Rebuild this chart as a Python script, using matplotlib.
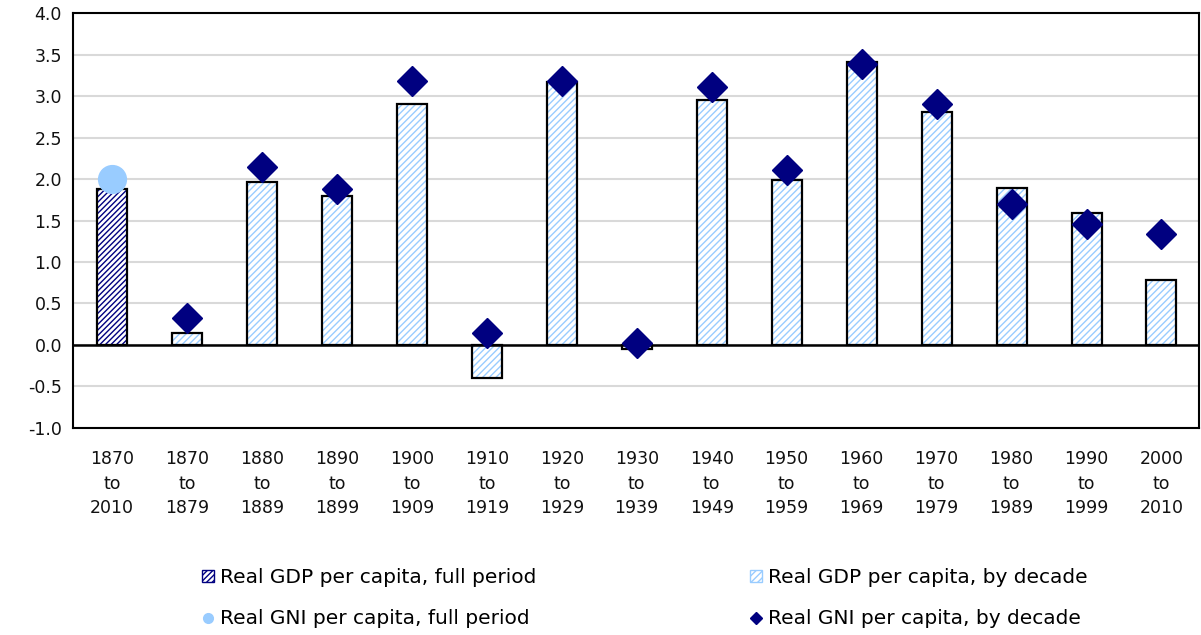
import numpy as np
import matplotlib.pyplot as plt
from matplotlib.patches import Patch
from matplotlib.lines import Line2D

plt.rcParams['font.family'] = ['DejaVu Sans']

categories = ["1870\nto\n2010", "1870\nto\n1879", "1880\nto\n1889", "1890\nto\n1899",
              "1900\nto\n1909", "1910\nto\n1919", "1920\nto\n1929", "1930\nto\n1939",
              "1940\nto\n1949", "1950\nto\n1959", "1960\nto\n1969", "1970\nto\n1979",
              "1980\nto\n1989", "1990\nto\n1999", "2000\nto\n2010"]
gdp_full = [1.88]
gdp_decade = [0.14, 1.96, 1.80, 2.90, -0.40, 3.17, -0.05, 2.95, 1.99, 3.41, 2.81, 1.89, 1.59, 0.78]
gni_full = [2.0]
gni_decade = [0.33, 2.14, 1.88, 3.18, 0.14, 3.18, 0.02, 3.11, 2.11, 3.39, 2.90, 1.70, 1.46, 1.34]

navy = '#000080'
light = '#99ccff'

fig = plt.figure(figsize=(12.01, 6.35), dpi=100)
ax = fig.add_axes([0.0608, 0.326, 0.9375, 0.6535])

x = np.arange(len(categories))
xf = x[:1]
xd = x[1:]
w = 0.4

# hatched fill (hatch takes edge colour), then black outline on top
ax.bar(xf, gdp_full, w, facecolor='white', edgecolor=navy, hatch='//////', linewidth=0, zorder=2)
ax.bar(xf, gdp_full, w, fill=False, edgecolor='black', linewidth=1.6, zorder=3)
ax.bar(xd, gdp_decade, w, facecolor='white', edgecolor=light, hatch='/////', linewidth=0, zorder=2)
ax.bar(xd, gdp_decade, w, fill=False, edgecolor='black', linewidth=1.6, zorder=3)

ax.plot(xf, gni_full, 'o', color=light, markersize=20, linestyle='none', zorder=5)
ax.plot(xd, gni_decade, 'D', color=navy, markersize=15.5, linestyle='none', zorder=5)

ax.axhline(0, color='black', linewidth=1.8, zorder=4)

ax.set_xlim(-0.52, len(categories) - 0.5)
ax.set_ylim(-1, 4)
ax.set_yticks(np.arange(-1, 4.01, 0.5))
ax.set_yticklabels(['%.1f' % v for v in np.arange(-1, 4.01, 0.5)])
ax.set_xticks(x)
ax.set_xticklabels(categories, linespacing=1.45)
ax.tick_params(axis='both', length=0, labelsize=12.5, colors='#111111')
ax.tick_params(axis='x', pad=16)
ax.tick_params(axis='y', pad=8)
ax.yaxis.grid(True, color='#d9d9d9', linewidth=1.5, zorder=0)
ax.set_axisbelow(True)
for s in ax.spines.values():
    s.set_color('black')
    s.set_linewidth(1.5)

handles = [
    Patch(facecolor='white', edgecolor=navy, hatch='//////', label='Real GDP per capita, full period'),
    Line2D([], [], marker='o', color=light, markersize=7, linestyle='none', label='Real GNI per capita, full period'),
    Patch(facecolor='white', edgecolor=light, hatch='/////', label='Real GDP per capita, by decade'),
    Line2D([], [], marker='D', color=navy, markersize=6, linestyle='none', label='Real GNI per capita, by decade'),
]
fig.legend(handles=handles, ncol=2, loc='lower left', bbox_to_anchor=(0.153, -0.018),
           frameon=False, fontsize=14.5, handlelength=0.6, handleheight=0.6, handletextpad=0.3,
           columnspacing=10.6, labelspacing=1.1)

fig.savefig('out.png', dpi=100)
